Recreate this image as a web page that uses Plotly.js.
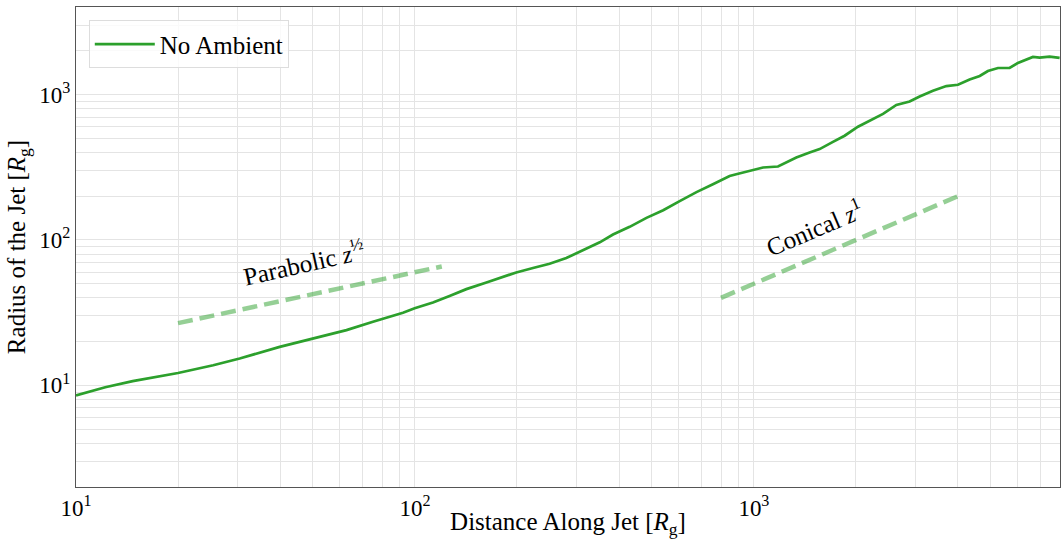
<!DOCTYPE html>
<html>
<head>
<meta charset="utf-8">
<script src="https://cdn.plot.ly/plotly-3.0.1.min.js"></script>
<style>html,body{margin:0;padding:0;background:#fff;}#chart{width:1061px;height:539px;}</style>
</head>
<body>
<div id="chart"></div>
<script>
// Jet radius profile (No Ambient)
const distance = [10, 12.2, 14.7, 20.0, 25.4, 30.4, 39.9, 50.0, 62.8, 75.2, 92.2, 99.8, 113, 126.5, 141.8, 162.5, 177.8, 199, 223, 249.6, 279.6, 313, 351, 384, 430, 482, 540, 604, 677, 757, 848, 887, 993, 1064, 1178, 1334, 1460, 1563, 1711, 1852, 2028, 2193, 2404, 2632, 2880, 3083, 3375, 3696, 4000, 4330, 4638, 4902, 5250, 5680, 6010, 6655, 6966, 7453, 7980];
const radius = [8.53, 9.7, 10.7, 12.17, 13.75, 15.3, 18.4, 21.0, 24.0, 27.4, 31.6, 33.9, 37.1, 41.2, 45.9, 51.0, 54.7, 59.8, 64.1, 68.6, 75.1, 84.8, 96.3, 108.9, 123.1, 141.9, 160.2, 185, 213.4, 241.4, 275.5, 283, 303.4, 315, 320, 369, 400, 421.5, 473, 521, 601, 661, 736, 849, 895, 969, 1061, 1143, 1167, 1270, 1341, 1452, 1523, 1523, 1650, 1815, 1795, 1824, 1786];

// Reference power-law guide lines (endpoints)
const parabolicX = [20, 120];
const parabolicY = [26.8, 65.7];
const conicalX = [800, 4000];
const conicalY = [40, 200];

// Tick labels
const xTickVals = [10, 100, 1000];
const xTickText = ['10<sup>1</sup>', '10<sup>2</sup>', '10<sup>3</sup>'];
const yTickVals = [10, 100, 1000];
const yTickText = ['10<sup>1</sup>', '10<sup>2</sup>', '10<sup>3</sup>'];

const FONT = 'Liberation Serif, Times New Roman, serif';
const GRID = '#e4e4e4';

const traces = [
  {
    x: parabolicX, y: parabolicY, mode: 'lines', showlegend: false, hoverinfo: 'skip',
    line: {color: 'rgba(44,160,44,0.5)', width: 4.5, dash: '15px,7px'}
  },
  {
    x: conicalX, y: conicalY, mode: 'lines', showlegend: false, hoverinfo: 'skip',
    line: {color: 'rgba(44,160,44,0.5)', width: 4.5, dash: '15px,7px'}
  },
  {
    x: distance, y: radius, mode: 'lines', name: 'No Ambient',
    line: {color: '#2ca02c', width: 2.7}
  }
];

const layout = {
  width: 1061, height: 539,
  margin: {l: 76, r: 1, t: 7, b: 52},
  paper_bgcolor: '#fff', plot_bgcolor: '#fff',
  font: {family: FONT, size: 23, color: '#000'},
  showlegend: true,
  legend: {
    x: 0.013, y: 0.972, xanchor: 'left', yanchor: 'top',
    bgcolor: 'rgba(255,255,255,0.8)', bordercolor: '#dddddd', borderwidth: 1,
    itemwidth: 60,
    font: {family: FONT, size: 25, color: '#000'}
  },
  xaxis: {
    type: 'log', range: [1, Math.log10(8000)],
    tickmode: 'array', tickvals: xTickVals, ticktext: xTickText,
    tickfont: {family: FONT, size: 23},
    showgrid: true, gridcolor: GRID, gridwidth: 1,
    minor: {dtick: 'D1', showgrid: true, gridcolor: GRID, gridwidth: 1, ticks: ''},
    showline: true, linecolor: '#555', linewidth: 1.2, mirror: true,
    ticks: '', zeroline: false,
    title: {text: 'Distance Along Jet [<i>R</i><sub>g</sub>]', font: {family: FONT, size: 25}, standoff: 2}
  },
  yaxis: {
    type: 'log', range: [Math.log10(2), Math.log10(4000)],
    tickmode: 'array', tickvals: yTickVals, ticktext: yTickText,
    tickfont: {family: FONT, size: 23},
    showgrid: true, gridcolor: GRID, gridwidth: 1,
    minor: {dtick: 'D1', showgrid: true, gridcolor: GRID, gridwidth: 1, ticks: ''},
    showline: true, linecolor: '#555', linewidth: 1.2, mirror: true,
    ticks: '', zeroline: false,
    title: {text: 'Radius of the Jet [<i>R</i><sub>g</sub>]', font: {family: FONT, size: 25}, standoff: 6}
  },
  annotations: [
    {
      x: Math.log10(47), y: Math.log10(70), xref: 'x', yref: 'y',
      text: 'Parabolic <i>z</i><sup>½</sup>', showarrow: false, textangle: -12.5,
      font: {family: FONT, size: 25, color: '#000'}
    },
    {
      x: Math.log10(1510), y: Math.log10(122), xref: 'x', yref: 'y',
      text: 'Conical <i>z</i><sup>1</sup>', showarrow: false, textangle: -23,
      font: {family: FONT, size: 25, color: '#000'}
    }
  ]
};

Plotly.newPlot('chart', traces, layout, {displayModeBar: false, staticPlot: true});
</script>
</body>
</html>
